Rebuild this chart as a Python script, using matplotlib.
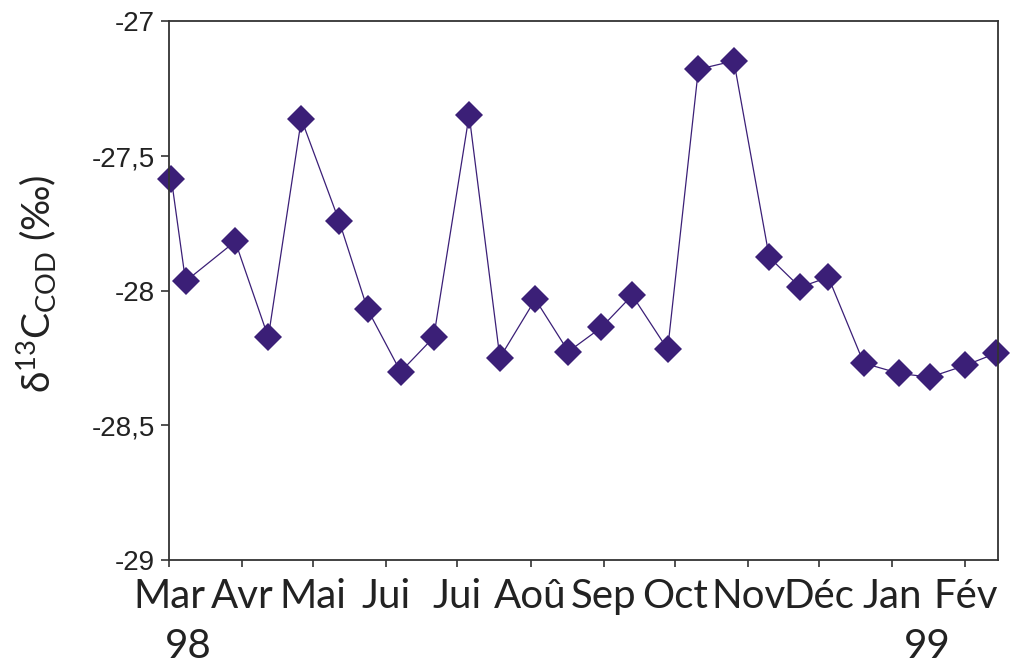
import numpy as np
import pandas as pd
import matplotlib
matplotlib.use('Agg')
import matplotlib.pyplot as plt
import matplotlib.transforms as mtransforms

plt.rcParams['font.family'] = ['Lato', 'DejaVu Sans']
plt.rcParams['mathtext.default'] = 'regular'

# dates de prélèvement (mars 1998 - février 1999)
dates = pd.to_datetime([
    '1998-03-02', '1998-03-08', '1998-03-29', '1998-04-12', '1998-04-26',
    '1998-05-12', '1998-05-24', '1998-06-07', '1998-06-21', '1998-07-06',
    '1998-07-19', '1998-08-03', '1998-08-17', '1998-08-31', '1998-09-13',
    '1998-09-28', '1998-10-11', '1998-10-26', '1998-11-10', '1998-11-23',
    '1998-12-05', '1998-12-20', '1999-01-04', '1999-01-17', '1999-02-01',
    '1999-02-14'])
d13c = [-27.586, -27.965, -27.817, -28.173, -27.363,
        -27.742, -28.069, -28.301, -28.173, -27.348,
        -28.249, -28.032, -28.226, -28.136, -28.017,
        -28.218, -27.178, -27.147, -27.876, -27.987,
        -27.950, -28.269, -28.307, -28.321, -28.277,
        -28.232]

month_labels = ['Mar', 'Avr', 'Mai', 'Jui', 'Jui', 'Aoû', 'Sep', 'Oct',
                'Nov', 'Déc', 'Jan', 'Fév']
month_ticks = pd.date_range('1998-03-01', '1999-02-01', freq='MS')
yticks = [-29, -28.5, -28, -27.5, -27]
ytick_labels = ['-29', '-28,5', '-28', '-27,5', '-27']

col = '#3b1f77'

fig = plt.figure(figsize=(10.22, 6.66), dpi=100)
ax = fig.add_axes([0.1654, 0.159, 0.8116, 0.809])

ax.plot(dates, d13c, color=col, lw=0.9, marker='D', ms=14,
        markeredgewidth=0, markerfacecolor=col, clip_on=False)

ax.set_xlim(pd.Timestamp('1998-03-01'), pd.Timestamp('1999-02-15'))
ax.set_ylim(-29, -27)

ax.set_xticks(month_ticks)
ax.set_xticklabels(month_labels, fontsize=29, color='#222222')
ax.set_yticks(yticks)
ax.set_yticklabels(ytick_labels, fontsize=20, color='#222222',
                   family=['Liberation Sans'])

ax.tick_params(axis='x', direction='out', length=5, width=1.2,
               color='#333333', pad=8)
ax.tick_params(axis='y', direction='out', length=6, width=1.2,
               color='#333333', pad=4)
for s in ax.spines.values():
    s.set_color('#333333')
    s.set_linewidth(1.3)

# années sous les mois
trans = mtransforms.blended_transform_factory(ax.transData, ax.transAxes)
ax.text(pd.Timestamp('1998-03-09'), -0.16, '98', transform=trans,
        ha='center', va='center', fontsize=29, color='#222222')
ax.text(pd.Timestamp('1999-01-16'), -0.16, '99', transform=trans,
        ha='center', va='center', fontsize=29, color='#222222')

fig.text(0.036, 0.574, r'$\delta^{13}C_{COD}$ (‰)', rotation=90,
         ha='center', va='center', fontsize=28, color='#222222')

fig.savefig('out.png', dpi=100)
